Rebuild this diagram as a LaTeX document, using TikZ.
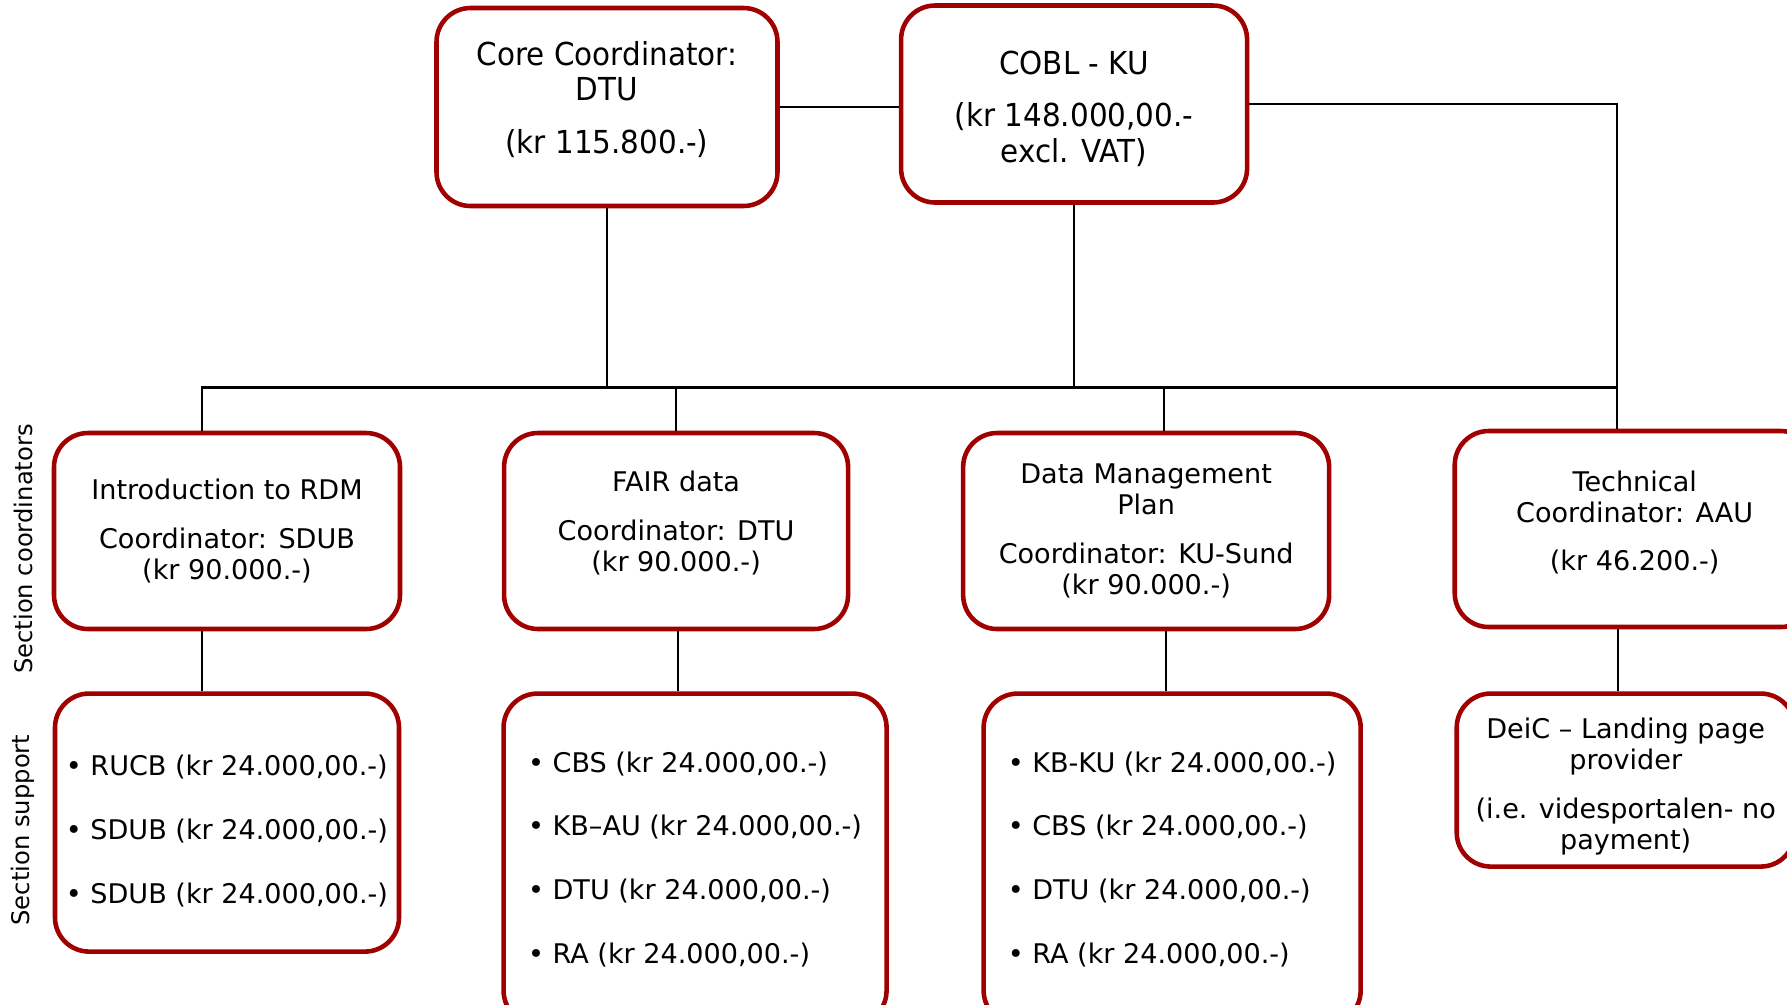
\documentclass[tikz,border=0pt]{standalone}
\usepackage{fontspec}
\setmainfont{DejaVu Sans}
\newfontfamily\topfont[FakeStretch=0.93]{DejaVu Sans}
\usetikzlibrary{positioning}
\definecolor{boxred}{RGB}{160,0,0}

\begin{document}
\begin{tikzpicture}[node distance=1cm, auto,
    unitbox/.style={rectangle, rounded corners=0.34cm, draw=boxred, line width=1.3pt, fill=white, text centered, inner sep=0pt, font=\fontsize{7.7}{8.8}\selectfont},
    topbox/.style={unitbox, font=\topfont\fontsize{9}{10}\selectfont},
    listbox/.style={unitbox, align=left},
    link/.style={draw, line width=0.7pt},
    sidelabel/.style={rotate=90, font=\fontsize{6.9}{8}\selectfont}]
    \useasboundingbox (0,0) rectangle (17.87,-10.04);
    \clip (0,0) rectangle (17.87,-10.04);

    % Top level
    \node [topbox, align=center, minimum width=3.41cm, minimum height=1.98cm] (core) at (6.07,-1.07) {Core Coordinator:\\DTU\\[5pt](kr 115.800.-)\\[-4.6pt]};
    \node [topbox, align=center, minimum width=3.46cm, minimum height=1.97cm, right=1.19cm of core, yshift=0.03cm] (cobl) {\mbox{}\\[-0.8pt]COBL - KU\\[5pt](kr 148.000,00.-\\excl. VAT)};

    % Section coordinators
    \node [unitbox, align=center, minimum width=3.46cm, minimum height=1.96cm] (intro) at (2.27,-5.31) {Introduction to RDM\\[5pt]Coordinator: SDUB\\(kr 90.000.-)};
    \node [unitbox, align=center, minimum width=3.44cm, minimum height=1.96cm, right=0.995cm of intro] (fair) {FAIR data\\[5pt]Coordinator: DTU\\(kr 90.000.-)\\[-3.2pt]};
    \node [unitbox, align=center, minimum width=3.66cm, minimum height=1.96cm, right=1.105cm of fair] (dmp) {Data Management\\Plan\\[5pt]Coordinator: KU-Sund\\(kr 90.000.-)};
    \node [unitbox, align=center, minimum width=3.60cm, minimum height=1.96cm, right=1.21cm of dmp, yshift=0.02cm] (tech) {Technical\\Coordinator: AAU\\[5pt](kr 46.200.-)\\[-4pt]};

    % Section support
    \node [listbox, minimum width=3.44cm, minimum height=2.58cm, below=0.6cm of intro] (introsup) {\mbox{}\\[1.9pt]• RUCB (kr 24.000,00.-)\\[9.3pt]• SDUB (kr 24.000,00.-)\\[9.3pt]• SDUB (kr 24.000,00.-)};
    \node [listbox, minimum width=3.83cm, minimum height=3.31cm, below=0.6cm of fair, xshift=0.19cm] (fairsup) {• CBS (kr 24.000,00.-)\\[9.3pt]• KB–AU (kr 24.000,00.-)\\[9.3pt]• DTU (kr 24.000,00.-)\\[9.3pt]• RA (kr 24.000,00.-)};
    \node [listbox, minimum width=3.77cm, minimum height=3.31cm, below=0.6cm of dmp, xshift=0.26cm] (dmpsup) {• KB-KU (kr 24.000,00.-)\\[9.3pt]• CBS (kr 24.000,00.-)\\[9.3pt]• DTU (kr 24.000,00.-)\\[9.3pt]• RA (kr 24.000,00.-)};
    \node [unitbox, align=center, minimum width=3.38cm, minimum height=1.73cm, below=0.62cm of tech, xshift=-0.09cm] (deic) {\mbox{}\\[0.8pt]DeiC – Landing page\\provider\\[5pt](i.e. videsportalen- no\\payment)};

    % Side labels
    \node [sidelabel] (seccoord) at (0.23,-5.49) {Section coordinators};
    \node [sidelabel] (secsupport) at (0.23,-8.30) {Section support};

    % Lines
    \coordinate (bus) at (0,-3.875);
    \draw [link] (core.east) -- (core.east -| cobl.west);
    \draw [link] (cobl.east) -| ([xshift=-0.18cm]tech.north);
    \draw [link] (core.south) -- (core.south |- bus);
    \draw [link] (cobl.south) -- (cobl.south |- bus);
    \draw [link] ([xshift=-0.25cm]intro.north) |- ([xshift=-0.18cm]tech.north |- bus);
    \draw [link] (fair.north) -- (fair.north |- bus);
    \draw [link] ([xshift=0.18cm]dmp.north) -- ([xshift=0.18cm]dmp.north |- bus);

    \draw [link] ([xshift=-0.25cm]intro.south) -- ([xshift=-0.25cm]intro.south |- introsup.north);
    \draw [link] ([xshift=0.02cm]fair.south) -- ([xshift=0.02cm]fair.south |- fairsup.north);
    \draw [link] ([xshift=0.2cm]dmp.south) -- ([xshift=0.2cm]dmp.south |- dmpsup.north);
    \draw [link] ([xshift=-0.17cm]tech.south) -- ([xshift=-0.17cm]tech.south |- deic.north);

\end{tikzpicture}
\end{document}
